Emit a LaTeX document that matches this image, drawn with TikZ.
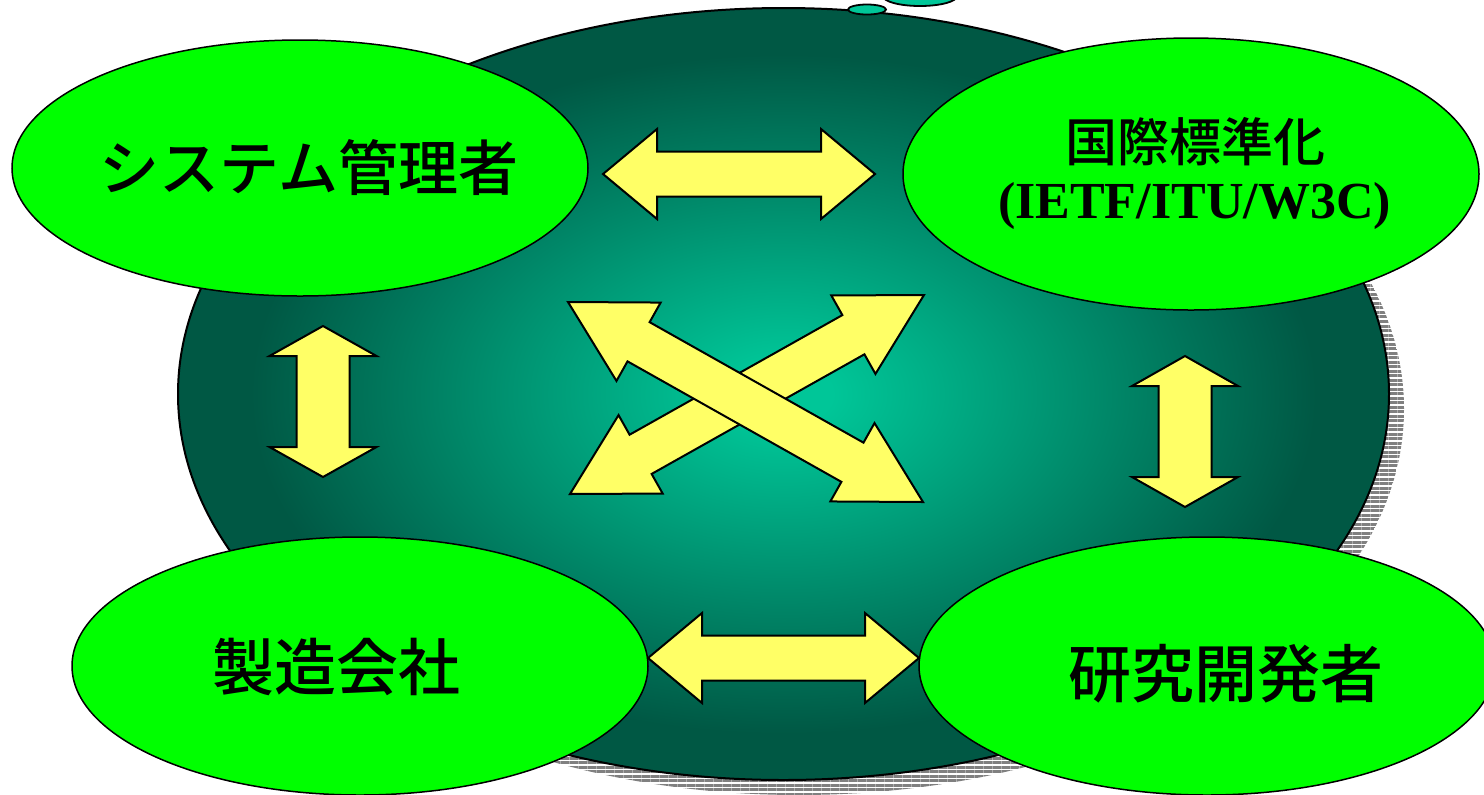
\documentclass[tikz,border=0pt]{standalone}
\usepackage{fontspec}
\newfontfamily\cjk{Noto Sans CJK JP Medium}
\newfontfamily\serifb{Liberation Serif}
\usetikzlibrary{shapes.geometric,calc,patterns.meta}
\definecolor{leaf}{RGB}{0,255,0}
\definecolor{lemon}{RGB}{255,255,102}
\definecolor{tealc}{RGB}{0,198,152}
\definecolor{teald}{RGB}{0,88,68}
\definecolor{shadowgray}{RGB}{128,128,128}
\pgfdeclareradialshading{netshade}{\pgfpoint{0bp}{0bp}}{color(0bp)=(tealc); color(2bp)=(tealc); color(22bp)=(teald); color(100bp)=(teald)}
\tikzset{
  greenell/.style={ellipse, draw=black, line width=0.75pt, fill=leaf, inner sep=0pt},
  bubble/.style={ellipse, draw=black, line width=0.9pt, fill=tealc, inner sep=0pt},
  blockarrowstyle/.style={draw=black, line width=1pt, fill=lemon, line join=miter},
  jp/.style={font=\cjk, inner sep=0pt, text=black},
  lat/.style={font=\serifb\bfseries, inner sep=0pt, text=black}
}
% #1 tip A, #2 tip B, #3 head length, #4 head half width, #5 shaft half width
\newcommand{\blockarrow}[5]{%
  \draw[blockarrowstyle] (#1)
    -- ($(#1)!#3!(#2)!#4!90:(#2)$)
    -- ($(#1)!#3!(#2)!#5!90:(#2)$)
    -- ($(#2)!#3!(#1)!#5!-90:(#1)$)
    -- ($(#2)!#3!(#1)!#4!-90:(#1)$)
    -- (#2)
    -- ($(#2)!#3!(#1)!#4!90:(#1)$)
    -- ($(#2)!#3!(#1)!#5!90:(#1)$)
    -- ($(#1)!#3!(#2)!#5!-90:(#2)$)
    -- ($(#1)!#3!(#2)!#4!-90:(#2)$)
    -- cycle;}
\begin{document}
\begin{tikzpicture}[x=0.5pt,y=-0.5pt]
\useasboundingbox (0,0) rectangle (1484,794);
\fill[white] (0,0) rectangle (1484,794);
% shadow of the big ellipse
\node[ellipse, inner sep=0pt, minimum width=605.5pt, minimum height=386pt,
      pattern={Lines[angle=0,distance=2.25pt,line width=1.5pt]}, pattern color=shadowgray]
      (netshadow) at (798.5,409) {};
% big ellipse
\node[ellipse, inner sep=0pt, minimum width=605.5pt, minimum height=386pt,
      draw=black, line width=1pt, shading=netshade] (net) at (783.5,394) {};
% thought bubbles
\node[bubble, minimum width=19pt, minimum height=5pt] (bub1) at (867,9.5) {};
\node[bubble, minimum width=37pt, minimum height=10pt] (bub2) at (920,-4) {};
% green ellipses
\node[greenell, minimum width=288pt, minimum height=128pt] (sys) at (300,168) {};
\node[greenell, minimum width=288pt, minimum height=136pt] (std) at (1191,174) {};
\node[greenell, minimum width=288pt, minimum height=129pt] (mfg) at (360,666) {};
\node[greenell, minimum width=288pt, minimum height=129pt] (res) at (1207,666) {};
% texts
\node[jp, font=\cjk\fontsize{30}{30}\selectfont] (systxt) at (309,168) {システム管理者};
\node[jp, font=\cjk\fontsize{26}{26}\selectfont] (stdtxt) at (1195,142) {国際標準化};
\node[lat, font=\serifb\bfseries\fontsize{26}{26}\selectfont] (stdorg) at (1194.5,205.5) {(IETF/ITU/W3C)};
\node[jp, font=\cjk\fontsize{31}{31}\selectfont] (mfgtxt) at (336,667) {製造会社};
\node[jp, font=\cjk\fontsize{31.5}{31.5}\selectfont] (restxt) at (1226,674) {研究開発者};
% arrow tips
\coordinate (th1) at (603,174);  \coordinate (th2) at (875,174);
\coordinate (bh1) at (648,658);  \coordinate (bh2) at (919,658);
\coordinate (lv1) at (323,326);  \coordinate (lv2) at (323,477);
\coordinate (rv1) at (1185,356); \coordinate (rv2) at (1185,507);
\coordinate (da1) at (568,302);  \coordinate (da2) at (923,502);
\coordinate (db1) at (570,494);  \coordinate (db2) at (924,295);
% arrows
\blockarrow{th1}{th2}{27pt}{22.5pt}{11.25pt}
\blockarrow{bh1}{bh2}{27pt}{22.5pt}{11.25pt}
\blockarrow{lv1}{lv2}{15pt}{26.75pt}{13.25pt}
\blockarrow{rv1}{rv2}{15pt}{26.5pt}{13.25pt}
\blockarrow{db1}{db2}{40.5pt}{22.5pt}{11.25pt}
\blockarrow{da1}{da2}{40.5pt}{22.5pt}{11.25pt}
\end{tikzpicture}
\end{document}
